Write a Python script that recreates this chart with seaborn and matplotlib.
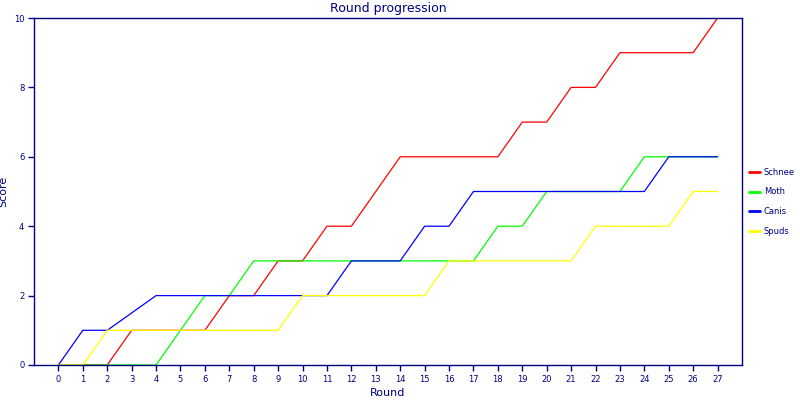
import pandas as pd
import matplotlib
matplotlib.use("Agg")
import matplotlib.pyplot as plt
import seaborn as sns

rounds = list(range(28))
schnee = [0, 0, 0, 1, 1, 1, 1, 2, 2, 3, 3, 4, 4, 5, 6, 6, 6, 6, 6, 7, 7, 8, 8, 9, 9, 9, 9, 10]
moth = [0, 0, 0, 0, 0, 1, 2, 2, 3, 3, 3, 3, 3, 3, 3, 3, 3, 3, 4, 4, 5, 5, 5, 5, 6, 6, 6, 6]
canis = [0, 1, 1, 1.5, 2, 2, 2, 2, 2, 2, 2, 2, 3, 3, 3, 4, 4, 5, 5, 5, 5, 5, 5, 5, 5, 6, 6, 6]
spuds = [0, 0, 1, 1, 1, 1, 1, 1, 1, 1, 2, 2, 2, 2, 2, 2, 3, 3, 3, 3, 3, 3, 4, 4, 4, 4, 5, 5]

players = ["Schnee", "Moth", "Canis", "Spuds"]
colors = ["#ff0000", "#00ff00", "#0000ff", "#ffff00"]
navy = "#000080"

df = pd.concat([
    pd.DataFrame({"Round": rounds, "Score": s, "Player": p})
    for p, s in zip(players, [schnee, moth, canis, spuds])
])

sns.set_style("white")
plt.rcParams["font.family"] = ["DejaVu Sans"]

fig = plt.figure(figsize=(8, 4), dpi=100)
ax = fig.add_axes([0.0425, 0.0875, 0.885, 0.8675])

sns.lineplot(data=df, x="Round", y="Score", hue="Player", palette=colors,
             hue_order=players, linewidth=0.9, ax=ax)

ax.set_xlim(-1, 28)
ax.set_ylim(0, 10)
ax.set_xticks(rounds)
ax.set_yticks(range(0, 11, 2))
ax.tick_params(axis="both", colors=navy, labelsize=6, length=4, width=1,
               direction="out", bottom=True, left=True, pad=3)
for sp in ax.spines.values():
    sp.set_color(navy)
    sp.set_linewidth(1)

ax.set_title("Round progression", color=navy, fontsize=9, pad=4)
ax.set_xlabel("Round", color=navy, fontsize=8, labelpad=3)
ax.set_ylabel("Score", color=navy, fontsize=8)
ax.yaxis.set_label_coords(-0.036, 0.5)

leg = ax.legend(loc="center left", bbox_to_anchor=(1.0, 0.47), frameon=False,
                fontsize=6, handlelength=1.4, handletextpad=0.4, labelspacing=1.3,
                borderaxespad=0.4)
for t in leg.get_texts():
    t.set_color(navy)
for h in leg.get_lines():
    h.set_linewidth(2)

fig.savefig("out.png", dpi=100)
